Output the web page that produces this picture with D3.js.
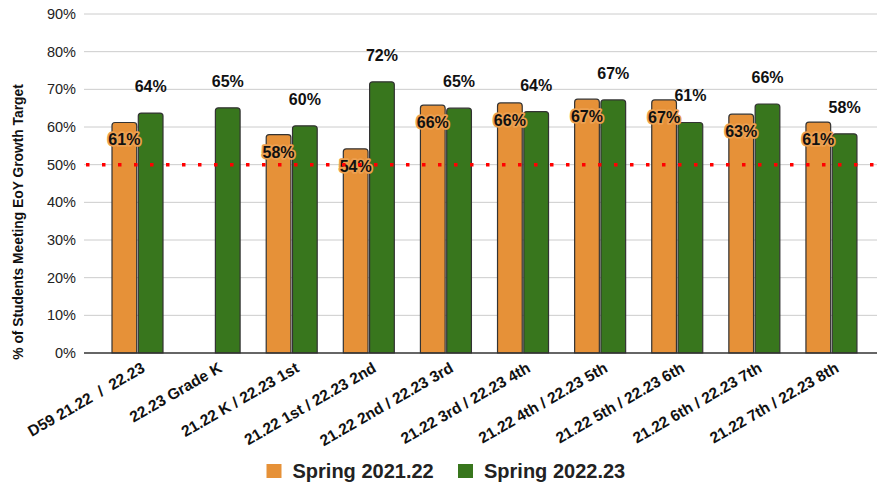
<!DOCTYPE html>
<html>
<head>
<meta charset="utf-8">
<script src="https://cdn.jsdelivr.net/npm/d3@7"></script>
<style>
  html, body { margin: 0; padding: 0; background: #fff; }
  svg { display: block; font-family: "Liberation Sans", Arial, sans-serif; }
</style>
</head>
<body>
<svg id="chart" width="877" height="483"></svg>
<script>
// ---- data ----
const categories = [
  "D59 21.22  /  22.23",
  "22.23 Grade K",
  "21.22 K / 22.23 1st",
  "21.22 1st / 22.23 2nd",
  "21.22 2nd / 22.23 3rd",
  "21.22 3rd / 22.23 4th",
  "21.22 4th / 22.23 5th",
  "21.22 5th / 22.23 6th",
  "21.22 6th / 22.23 7th",
  "21.22 7th / 22.23 8th"
];
const seriesNames = ["Spring 2021.22", "Spring 2022.23"];
const spring2122 = [0.612, null, 0.58, 0.542, 0.658, 0.664, 0.674, 0.672, 0.634, 0.613];
const spring2223 = [0.637, 0.651, 0.603, 0.72, 0.65, 0.641, 0.672, 0.612, 0.661, 0.582];
const yTicks = [0, 0.1, 0.2, 0.3, 0.4, 0.5, 0.6, 0.7, 0.8, 0.9];
const targetLine = 0.5;
const yTitle = "% of Students Meeting EoY Growth Target";
const colors = ["#e69138", "#38761d"];

// ---- layout ----
const svg = d3.select("#chart");
const plotLeft = 84, plotRight = 877, plotTop = 14, plotBottom = 353;

const y = d3.scaleLinear().domain([0, 0.9]).range([plotBottom, plotTop]);
const x0 = d3.scaleBand().domain(categories).range([99.45, 870.5]).padding(0);
const x1 = d3.scaleBand().domain(seriesNames).range([-26, 25]).paddingInner(0.06);
const pct = d3.format(".0%");

// gridlines
svg.append("g").selectAll("line").data(yTicks.filter(t => t > 0)).join("line")
  .attr("x1", plotLeft).attr("x2", plotRight)
  .attr("y1", d => y(d)).attr("y2", d => y(d))
  .attr("stroke", "#cccccc").attr("stroke-width", 1);

// y axis labels
const yAxis = d3.axisLeft(y).tickValues(yTicks).tickFormat(pct).tickSize(0).tickPadding(8);
const yg = svg.append("g").attr("transform", `translate(${plotLeft},0)`).call(yAxis);
yg.select(".domain").remove();
yg.selectAll("text").attr("font-size", 14.5).attr("fill", "#222")
  .attr("font-family", "'Liberation Sans', Arial, sans-serif");

// y title
svg.append("text")
  .attr("transform", `translate(23,222) rotate(-90)`)
  .attr("text-anchor", "middle")
  .attr("font-size", 13.8).attr("font-weight", "bold").attr("fill", "#111")
  .text(yTitle);

// bars
function topRounded(x, yTop, w, h, r) {
  r = Math.min(r, h, w / 2);
  return `M${x},${yTop + h}V${yTop + r}Q${x},${yTop} ${x + r},${yTop}H${x + w - r}Q${x + w},${yTop} ${x + w},${yTop + r}V${yTop + h}Z`;
}
const rows = categories.map((c, i) => ({ c, vals: [spring2122[i], spring2223[i]] }));
const groups = svg.append("g").selectAll("g").data(rows).join("g")
  .attr("transform", d => `translate(${x0(d.c) + x0.bandwidth() / 2},0)`);

groups.selectAll("path").data(d => d.vals.map((v, k) => ({ v, k })).filter(e => e.v != null)).join("path")
  .attr("d", e => topRounded(x1(seriesNames[e.k]), y(e.v), x1.bandwidth(), plotBottom - y(e.v), 3))
  .attr("fill", e => colors[e.k])
  .attr("stroke", "#333").attr("stroke-width", 1.2);

// baseline axis
svg.append("line").attr("x1", plotLeft).attr("x2", plotRight)
  .attr("y1", plotBottom).attr("y2", plotBottom)
  .attr("stroke", "#333").attr("stroke-width", 1.3);

// target line
svg.append("line").attr("x1", 86).attr("x2", plotRight)
  .attr("y1", y(targetLine)).attr("y2", y(targetLine))
  .attr("stroke", "#ff0000").attr("stroke-width", 3.5).attr("stroke-dasharray", "3.5 12.5");

// value labels
groups.each(function(d) {
  const g = d3.select(this);
  d.vals.forEach((v, k) => {
    if (v == null) return;
    const cx = x1(seriesNames[k]) + x1.bandwidth() / 2;
    const t = g.append("text")
      .attr("x", cx)
      .attr("text-anchor", "middle")
      .attr("font-size", 16).attr("font-weight", "bold").attr("fill", "#111")
      .text(pct(v));
    if (k === 0) {
      t.attr("y", y(v) + 23)
        .attr("stroke", "#eda050").attr("stroke-width", 3.5)
        .attr("paint-order", "stroke").attr("stroke-linejoin", "round");
    } else {
      t.attr("y", y(v) - 21);
    }
  });
});

// x labels
const xg = svg.append("g").attr("transform", `translate(0,${plotBottom})`)
  .call(d3.axisBottom(x0).tickSize(0).tickPadding(0));
xg.select(".domain").remove();
xg.selectAll(".tick text")
  .attr("font-size", 15.5).attr("font-weight", "bold").attr("fill", "#111")
  .attr("font-family", "'Liberation Sans', Arial, sans-serif")
  .attr("text-anchor", "end")
  .attr("dy", null)
  .attr("y", 0)
  .attr("transform", "translate(8,18) rotate(-30)")
  .style("white-space", "pre")
  .attr("xml:space", "preserve");

// legend
const legend = svg.append("g");
const legendItems = [{ name: seriesNames[0], x: 266.5 }, { name: seriesNames[1], x: 458 }];
legendItems.forEach((it, k) => {
  legend.append("rect").attr("x", it.x).attr("y", 464).attr("width", 15).attr("height", 14)
    .attr("fill", colors[k]);
  legend.append("text").attr("x", it.x + 26).attr("y", 477.5)
    .attr("font-size", 20).attr("font-weight", "bold").attr("fill", "#222")
    .text(it.name);
});
</script>
</body>
</html>
